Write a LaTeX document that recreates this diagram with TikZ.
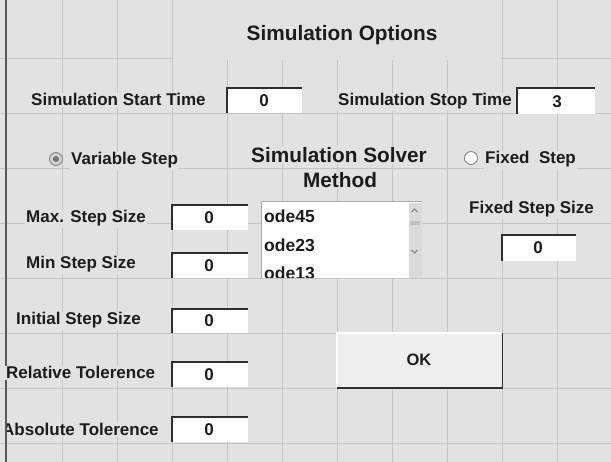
\documentclass[tikz,border=0pt]{standalone}
\usepackage{fontspec}
\setmainfont{Liberation Sans}
\definecolor{bg}{HTML}{E2E2E2}
\definecolor{gridc}{HTML}{C4C4C4}
\definecolor{ink}{HTML}{1C1C1C}
\definecolor{edgec}{HTML}{2E2E2E}
\definecolor{lbord}{HTML}{A8A8A8}
\definecolor{scrc}{HTML}{DADADA}
\definecolor{arrc}{HTML}{8C8C8C}
\definecolor{radiofill}{HTML}{D2D2D2}
\begin{document}
\begin{tikzpicture}[x=1pt,y=-1pt,
  lbl/.style={anchor=base west, inner sep=1pt, fill=bg, text=ink, font=\fontsize{17}{20}\selectfont\bfseries},
  head/.style={anchor=base, inner sep=1pt, fill=bg, text=ink, font=\fontsize{20.8}{24}\selectfont\bfseries},
  val/.style={anchor=base, inner sep=0pt, text=ink, font=\fontsize{17}{20}\selectfont\bfseries},
  item/.style={anchor=base west, inner sep=0pt, text=ink, font=\fontsize{17.5}{20}\selectfont\bfseries},
  editbox/.style={fill=white, draw=none, inner sep=0pt, anchor=north west},
  sunken/.style={draw=edgec, line width=1.6pt},
  radio/.style={circle, inner sep=0pt, minimum size=13pt, line width=1pt}
]
% background and border
\fill[bg] (0,0) rectangle (611,462);
\useasboundingbox (0,0) rectangle (611,462);
\foreach \gx in {62,117,172,227,282,337,392,447,502,557}
  \draw[gridc, line width=0.9pt] (\gx,0) -- (\gx,462);
\foreach \gy in {58,113,168,223,278,333,388,443}
  \draw[gridc, line width=0.9pt] (0,\gy) -- (611,\gy);
\fill[bg] (173,0) rectangle (501,60);
\coordinate (ltop) at (6,0);
\coordinate (lbot) at (6,462);
\draw[color=edgec!80, line width=2pt] (ltop) -- (lbot);

% title
\node[head] (title) at (342,40.5) {Simulation Options};

% start / stop time
\node[lbl] (lstart) at (30,106) {Simulation Start Time};
\node[editbox, minimum width=75pt, minimum height=25pt] (bstart) at (227,88) {};
\draw[sunken] (bstart.south west) -- (bstart.north west) -- (bstart.north east);
\node[val] (vstart) at (264,107) {0};

\node[lbl] (lstop) at (337,106) {Simulation Stop Time};
\node[editbox, minimum width=78pt, minimum height=26pt] (bstop) at (517,88) {};
\draw[sunken] (bstop.south west) -- (bstop.north west) -- (bstop.north east);
\node[val] (vstop) at (557,108) {3};

% radio buttons
\node[radio, fill=radiofill, draw=arrc] (rvar) at (56,159) {};
\node[circle, inner sep=0pt, minimum size=6pt, fill=black!55] (rvardot) at (rvar.center) {};
\node[lbl] (lvar) at (70,165) {Variable Step};

\node[radio, fill=white, draw=arrc] (rfix) at (471,158) {};
\node[lbl] (lfix) at (484,164) {Fixed~~Step};

% solver method heading
\node[head] (lsolver) at (339,162.5) {Simulation Solver};
\node[head] (lmethod) at (340,187.5) {Method};

% listbox
\node[fill=white, inner sep=0pt, anchor=north west, minimum width=161pt, minimum height=76pt] (list) at (261,202) {};
\draw[lbord, line width=1pt] (list.south west) -- (list.north west) -- (list.north east);
\node[fill=scrc, inner sep=0pt, anchor=north east, minimum width=13pt, minimum height=75pt] (scroll) at ([yshift=-0.5pt]list.north east) {};
\draw[arrc, line width=1.4pt] (411.5,212) -- (414.5,209) -- (417.5,212);
\fill[black!25] (409.5,221.5) rectangle (419.5,225);
\draw[arrc, line width=1.4pt] (411.5,250) -- (414.5,253) -- (417.5,250);
\begin{scope}
  \clip (261,202) rectangle (407,278);
  \node[item] (ode45) at (264,223) {ode45};
  \node[item] (ode23) at (264,252) {ode23};
  \node[item] (ode13) at (264,280) {ode13};
\end{scope}

% fixed step size
\node[lbl] (lfixsize) at (468,214) {Fixed Step Size};
\node[editbox, minimum width=74pt, minimum height=26pt] (bfix) at (502,235) {};
\draw[sunken] (bfix.south west) -- (bfix.north west) -- (bfix.north east);
\node[val] (vfix) at (538,254) {0};

% left column
\node[lbl] (lmax) at (25,223) {Max. Step Size};
\node[editbox, minimum width=76pt, minimum height=25pt] (bmax) at (172,205) {};
\draw[sunken] (bmax.south west) -- (bmax.north west) -- (bmax.north east);
\node[val] (vmax) at (209,224) {0};

\node[lbl] (lmin) at (25,269) {Min Step Size};
\node[editbox, minimum width=76pt, minimum height=25pt] (bmin) at (172,253) {};
\draw[sunken] (bmin.south west) -- (bmin.north west) -- (bmin.north east);
\node[val] (vmin) at (209,272) {0};

\node[lbl] (linit) at (15,325) {Initial Step Size};
\node[editbox, minimum width=76pt, minimum height=24pt] (binit) at (172,309) {};
\draw[sunken] (binit.south west) -- (binit.north west) -- (binit.north east);
\node[val] (vinit) at (209,327) {0};

\node[lbl] (lrel) at (5,379) {Relative Tolerence};
\node[editbox, minimum width=76pt, minimum height=25pt] (brel) at (172,362) {};
\draw[sunken] (brel.south west) -- (brel.north west) -- (brel.north east);
\node[val] (vrel) at (209,381) {0};

\begin{scope}
  \clip (7,400) rectangle (160.5,455);
  \node[lbl] (labs) at (1,436) {Absolute Tolerence};
\end{scope}
\node[editbox, minimum width=76pt, minimum height=25pt] (babs) at (172,417) {};
\draw[sunken] (babs.south west) -- (babs.north west) -- (babs.north east);
\node[val] (vabs) at (209,436) {0};

% OK button
\node[fill=bg!60!white, inner sep=0pt, anchor=north west, minimum width=165pt, minimum height=55pt] (ok) at (337,333) {};
\draw[white, line width=1.5pt] (ok.south west) -- (ok.north west) -- (ok.north east);
\draw[edgec, line width=1.8pt] (ok.north east) -- (ok.south east) -- (ok.south west);
\node[val, font=\fontsize{16.5}{20}\selectfont\bfseries] (oktext) at (419,366) {OK};
\end{tikzpicture}
\end{document}
